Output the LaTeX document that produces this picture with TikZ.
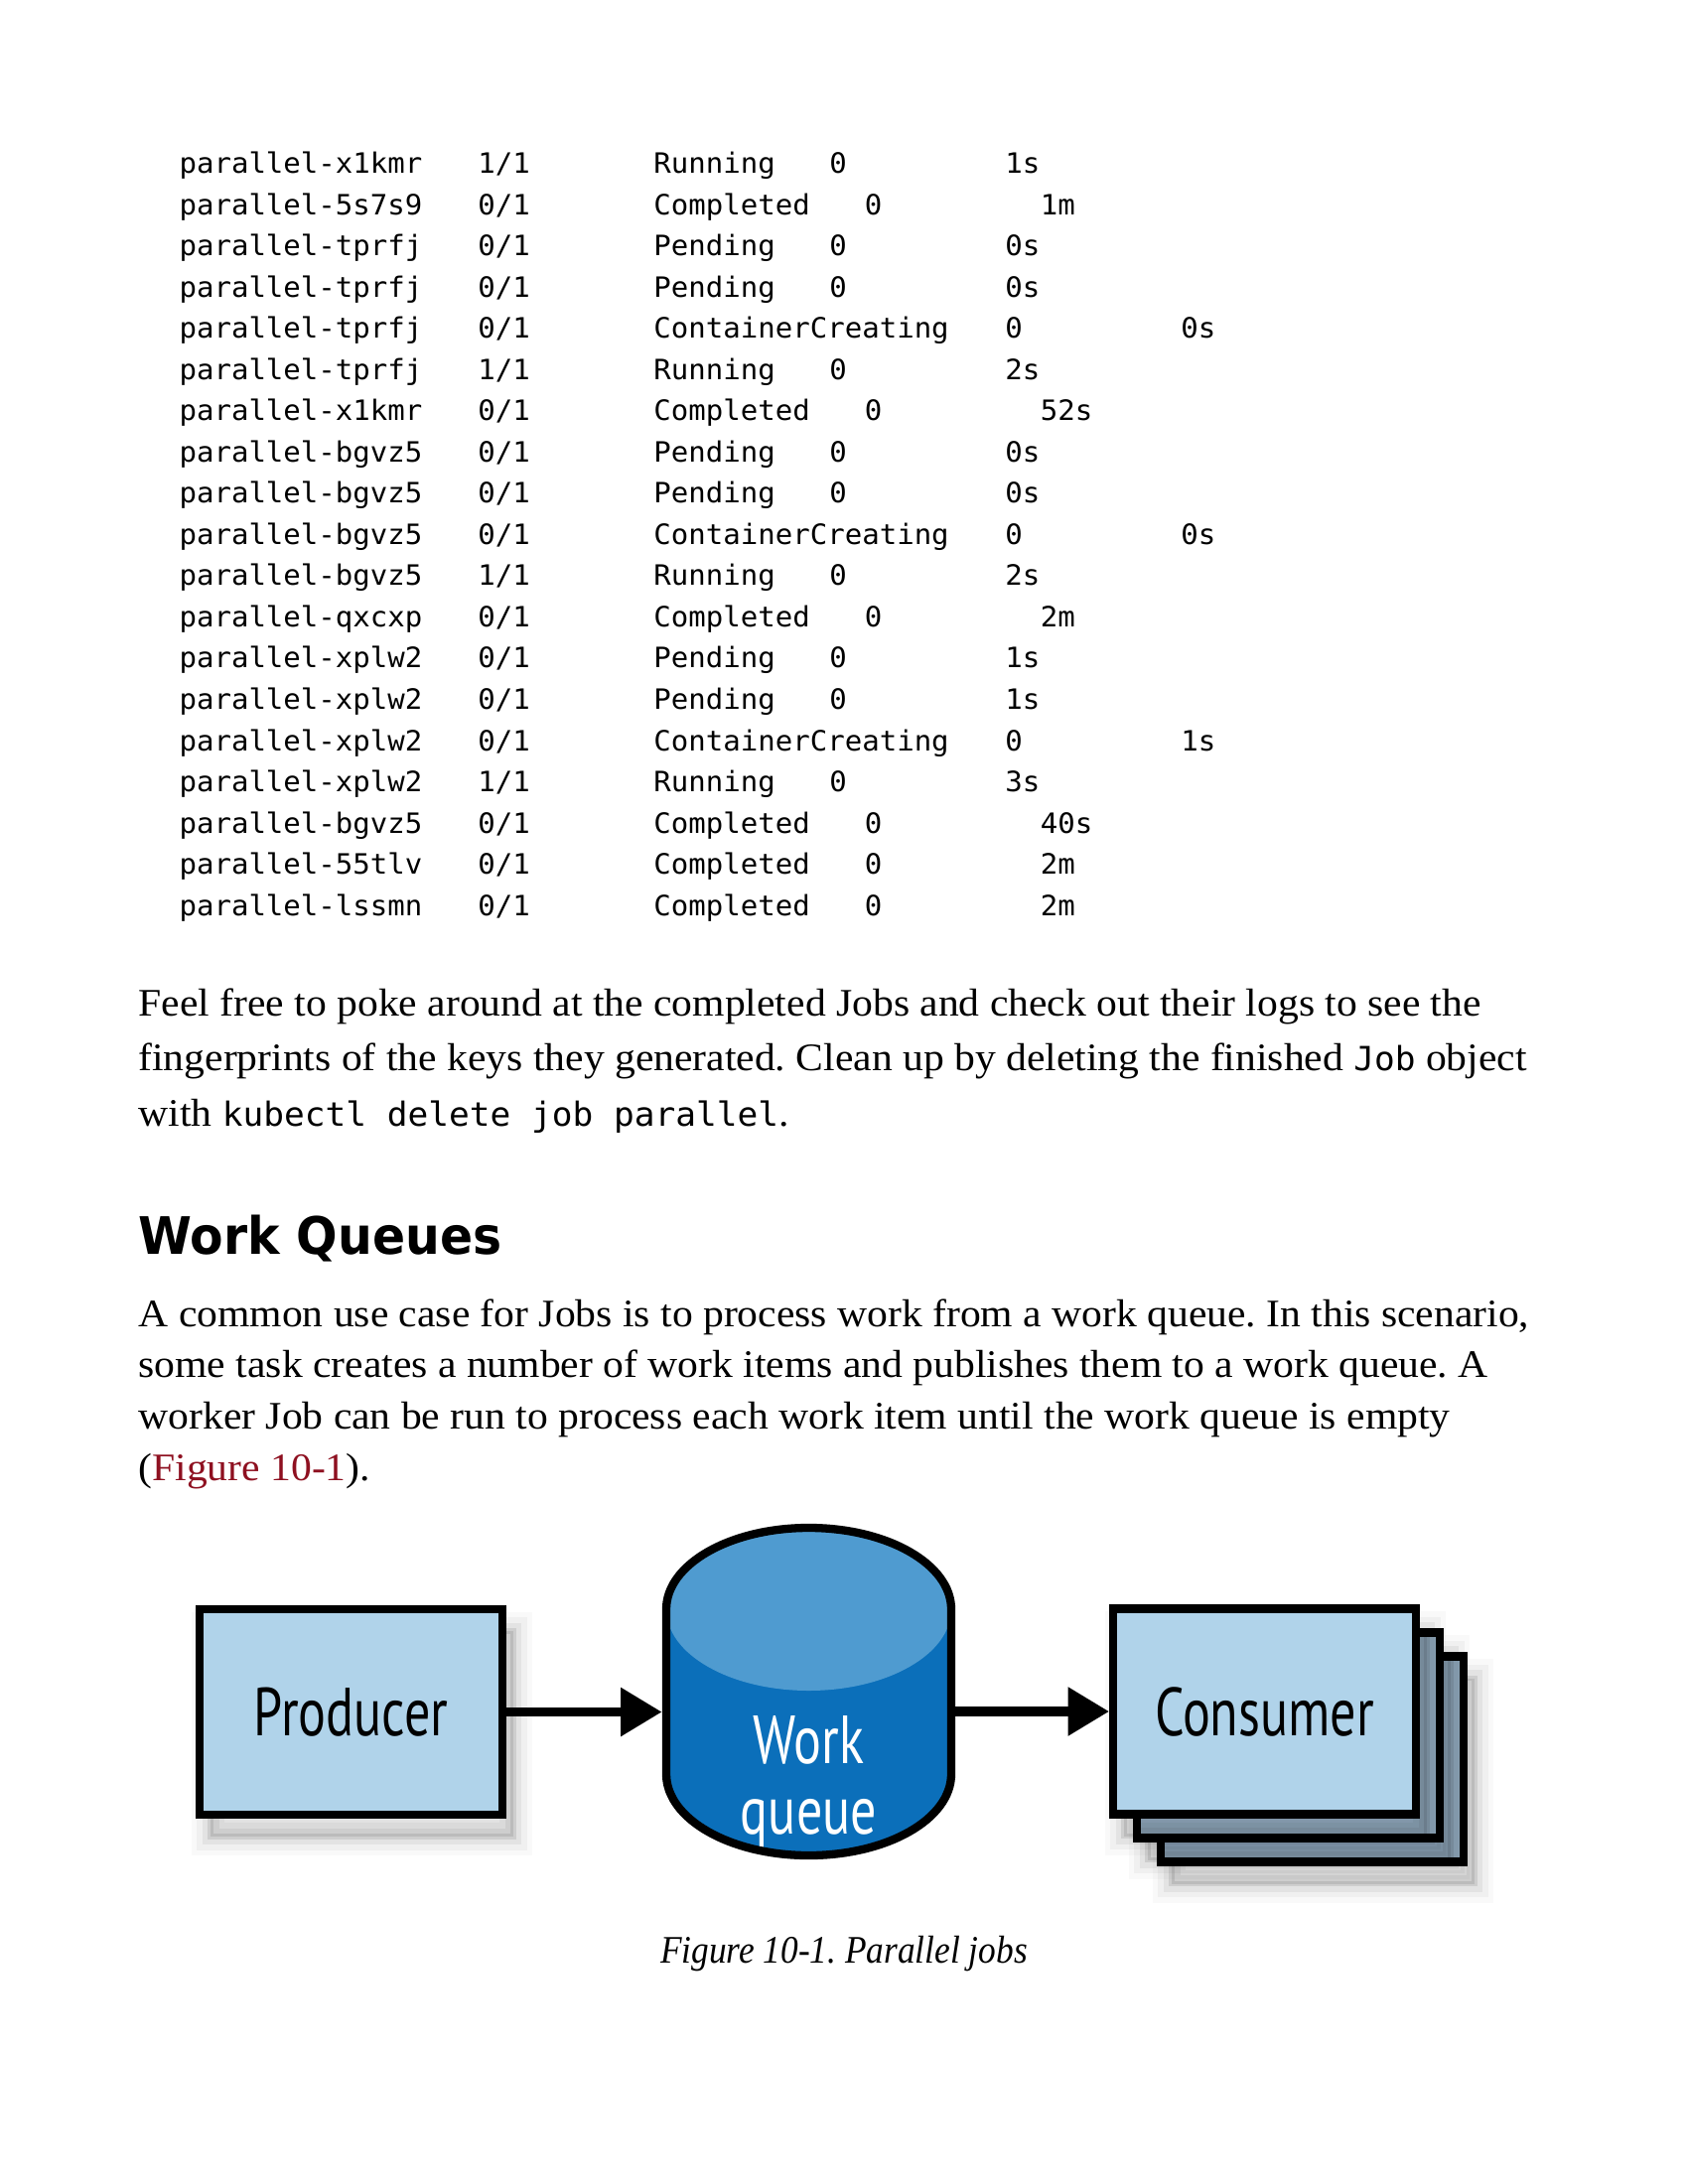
\documentclass[tikz,border=0pt]{standalone}
\usepackage{fontspec}
\setmainfont[FakeStretch=1.06]{Liberation Serif}
\newfontfamily\capfont[FakeStretch=0.9]{Liberation Serif}
\newfontfamily\codefont[FakeStretch=1.03]{DejaVu Sans Mono}
\newfontfamily\headfont[FakeStretch=0.94]{DejaVu Sans}
\newfontfamily\labelfont[FakeStretch=0.76]{PT Sans}
\usetikzlibrary{arrows.meta,positioning}
\definecolor{boxblue}{HTML}{B0D3EA}
\definecolor{backblue}{HTML}{93ACC0}
\definecolor{topblue}{HTML}{4F9BD0}
\definecolor{bodyblue}{HTML}{0B6FBA}
\definecolor{linkred}{HTML}{8E1020}
\newcommand{\inlinecode}[1]{{\codefont\fontsize{12.1pt}{13pt}\selectfont #1}}
\def\cw{17.7}
\frenchspacing
\begin{document}
\begin{tikzpicture}[x=0.005in,y=-0.005in,
  podtext/.style={font=\codefont\fontsize{10.2pt}{12pt}\selectfont,anchor=base west,inner sep=0pt},
  bodytext/.style={font=\fontsize{14.2pt}{17pt}\selectfont,anchor=base west,inner sep=0pt},
  headtext/.style={font=\headfont\bfseries\fontsize{18.8pt}{22pt}\selectfont,anchor=base west,inner sep=0pt},
  captext/.style={font=\capfont\itshape\fontsize{14.2pt}{17pt}\selectfont,anchor=base,inner sep=0pt},
  blurshadow/.style={
    preaction={draw=black,line width=14pt,opacity=.025,transform canvas={shift={(4pt,-8pt)}}},
    preaction={draw=black,line width=10pt,opacity=.035,transform canvas={shift={(4pt,-8pt)}}},
    preaction={draw=black,line width=6pt,opacity=.05,transform canvas={shift={(4pt,-8pt)}}},
    preaction={draw=black,fill=black,line width=2pt,opacity=.09,transform canvas={shift={(4pt,-8pt)}}}},
  jobbox/.style={draw,line width=3pt,fill=boxblue,minimum width=1.525in,minimum height=1.035in,
    inner sep=0pt,font=\labelfont\fontsize{24.8pt}{26pt}\selectfont},
  flow/.style={line width=3.3pt,-{Triangle[length=15pt,width=17pt]}}]
\fill[white](0,0)rectangle(1700,2200);
\useasboundingbox(0,0)rectangle(1700,2200);
% pod listing
\foreach \pod/\rdy/\st/\col/\age [count=\i from 0] in {
  x1kmr/1/Running/37/1s, 5s7s9/0/Completed/39/1m, tprfj/0/Pending/37/0s,
  tprfj/0/Pending/37/0s, tprfj/0/ContainerCreating/47/0s, tprfj/1/Running/37/2s,
  x1kmr/0/Completed/39/52s, bgvz5/0/Pending/37/0s, bgvz5/0/Pending/37/0s,
  bgvz5/0/ContainerCreating/47/0s, bgvz5/1/Running/37/2s, qxcxp/0/Completed/39/2m,
  xplw2/0/Pending/37/1s, xplw2/0/Pending/37/1s, xplw2/0/ContainerCreating/47/1s,
  xplw2/1/Running/37/3s, bgvz5/0/Completed/39/40s, 55tlv/0/Completed/39/2m,
  lssmn/0/Completed/39/2m}
{
\node[podtext] (pod\i) at (180,{175+41.5*\i}) {parallel-\pod};
\node[podtext] (rdy\i) at ({180+17*\cw},{175+41.5*\i}) {\rdy/1};
\node[podtext] (st\i) at ({180+27*\cw},{175+41.5*\i}) {\st};
\node[podtext] (rst\i) at ({180+\col*\cw},{175+41.5*\i}) {0};
\node[podtext] (age\i) at ({180+(\col+10)*\cw},{175+41.5*\i}) {\age};
}
% text
\node[bodytext] (fp1) at (139,1023) {Feel free to poke around at the completed Jobs and check out their logs to see the};
\node[bodytext] (fp2) at (139,1078) {fingerprints of the keys they generated. Clean up by deleting the finished \inlinecode{Job} object};
\node[bodytext] (fp3) at (139,1134) {with \inlinecode{kubectl delete job parallel}.};
\node[headtext] (head) at (139,1263) {Work Queues};
\node[bodytext] (wq1) at (139,1336) {A common use case for Jobs is to process work from a work queue. In this scenario,};
\node[bodytext] (wq2) at (139,1387) {some task creates a number of work items and publishes them to a work queue. A};
\node[bodytext] (wq3) at (139,1439) {worker Job can be run to process each work item until the work queue is empty};
\node[bodytext] (wq4) at (139,1491) {(\textcolor{linkred}{Figure 10-1}).};
% diagram
\node[jobbox,blurshadow] (producer) at (353.5,1724.5) {Producer};
\node[jobbox,blurshadow,fill=backblue] (cons3) at (1321.5,1772) {};
\node[jobbox,blurshadow,fill=backblue] (cons2) at (1297.5,1748) {};
\node[jobbox,blurshadow] (cons) at (1273.5,1724) {Consumer};
\node[minimum width=1.475in,minimum height=1.69in,inner sep=0pt] (queue) at (814.5,1704) {};
\fill[bodyblue](671,1621)--(671,1787)arc[start angle=180,end angle=0,x radius=143.5,y radius=82]
  --(958,1621)arc[start angle=0,end angle=-180,x radius=143.5,y radius=82]--cycle;
\fill[topblue](814.5,1621)ellipse[x radius=143.5,y radius=82];
\node[font=\labelfont\fontsize{24.8pt}{25.7pt}\selectfont,text=white,align=center,inner sep=0pt] (qtext) at (814.5,1795) {Work\\queue};
\draw[line width=3pt](671,1621)--(671,1787)arc[start angle=180,end angle=0,x radius=143.5,y radius=82]
  --(958,1621)arc[start angle=0,end angle=-180,x radius=143.5,y radius=82]--cycle;
\draw[flow](producer.east)--(producer.east-|queue.west);
\draw[flow](queue.east|-cons.west)--(cons.west);
\node[captext] (cap) at (850,1977) {Figure 10-1. Parallel jobs};
\end{tikzpicture}
\end{document}
